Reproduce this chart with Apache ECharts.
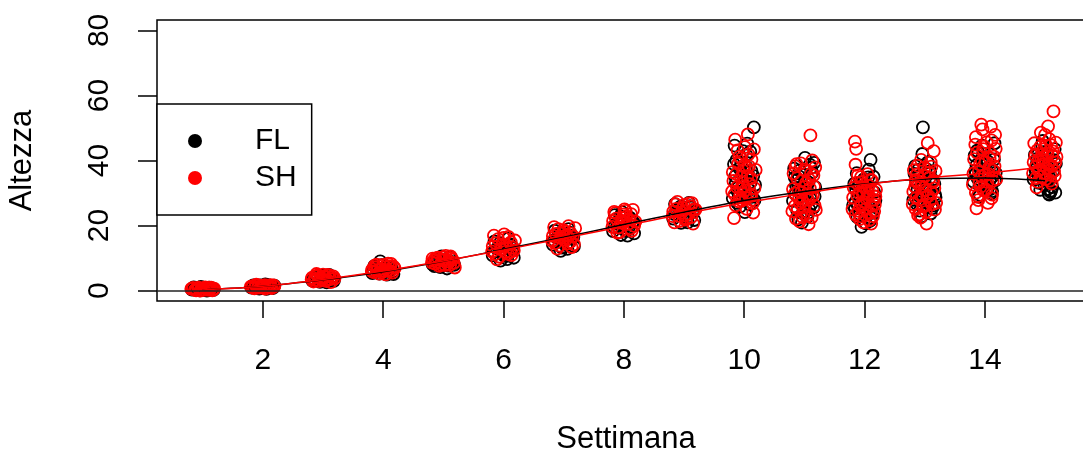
<!DOCTYPE html>
<html>
<head>
<meta charset="utf-8">
<script src="https://cdn.jsdelivr.net/npm/echarts@6/dist/echarts.min.js"></script>
<style>
  html, body { margin: 0; padding: 0; background: #fff; }
  #main { width: 1083px; height: 452px; }
</style>
</head>
<body>
<div id="main"></div>
<script>
// weeks and fitted curves
var weeks = [1, 2, 3, 4, 5, 6, 7, 8, 9, 10, 11, 12, 13, 14, 15];
var flFit = [0.2, 1.3, 3.3, 5.8, 9.0, 12.7, 16.4, 20.3, 24.1, 27.7, 30.5, 32.8, 34.3, 34.6, 33.8];
var shFit = [0.2, 1.3, 3.4, 6.0, 9.1, 12.5, 16.1, 19.8, 23.6, 27.0, 29.9, 32.6, 34.6, 36.1, 38.0];

var xTicks = [2, 4, 6, 8, 10, 12, 14];
var yTicks = [0, 20, 40, 60, 80];

// jittered observations [settimana, altezza], one block per week
var flPoints = [
  [0.82,0.3],[0.88,0.8],[0.95,0.1],[1.03,0.5],[1.11,0.9],[1.18,0.2],[0.91,0.6],[1.07,0.0],[1.15,0.7],[0.85,1.0],[0.99,0.4],[1.13,0.3],[0.97,1.1],[1.05,0.6],
  [0.86,0.4],[0.94,0.9],[1.02,0.2],[1.16,0.5],
  [1.81,0.9],[1.87,1.4],[1.94,0.6],[2.02,1.1],[2.09,1.7],[2.17,0.8],[1.90,1.2],[2.06,0.5],[2.14,1.3],[1.84,1.6],[1.98,0.9],[2.12,1.0],[2.19,1.5],[2.04,1.9],
  [1.85,1.1],[1.96,1.6],[2.07,0.8],[2.16,1.2],
  [2.82,3.1],[2.88,4.2],[2.95,2.7],[3.03,3.6],[3.10,4.8],[3.18,3.0],[2.91,3.9],[3.06,2.5],[3.14,4.1],[2.85,3.4],[2.99,4.6],[3.12,3.3],[2.97,2.9],[3.07,3.8],
  [2.84,3.7],[2.94,3.2],[3.05,4.4],[3.16,3.6],
  [3.82,5.4],[3.89,6.6],[3.95,9.0],[4.02,5.9],[4.10,7.2],[4.17,5.1],[3.92,6.1],[4.06,4.9],[4.14,6.8],[3.85,7.5],[3.99,5.6],[4.12,6.3],[3.97,7.8],[4.08,5.3],
  [3.84,6.0],[3.94,5.2],[4.04,6.9],[4.16,5.8],
  [4.82,8.1],[4.88,9.3],[4.95,7.2],[5.03,8.7],[5.10,10.2],[5.18,7.9],[4.91,9.8],[5.06,6.8],[5.14,8.4],[4.85,7.5],[4.99,9.1],[5.12,8.9],[4.97,10.5],[5.08,7.7],
  [4.84,8.8],[4.94,8.0],[5.04,9.6],[5.16,8.3],
  [5.82,10.8],[5.89,12.9],[5.95,9.2],[6.02,11.6],[6.10,14.3],[6.17,10.1],[5.92,13.5],[6.06,9.7],[6.14,12.2],[5.85,15.1],[5.99,11.0],[6.12,13.8],[5.97,12.6],[6.08,16.0],
  [5.84,12.0],[5.94,14.6],[6.04,10.6],[6.16,13.1],
  [6.82,14.1],[6.89,16.2],[6.95,12.2],[7.02,15.5],[7.10,17.8],[7.17,13.6],[6.92,17.1],[7.06,12.8],[7.14,15.9],[6.85,18.4],[6.99,14.7],[7.12,16.8],[6.97,13.2],[7.08,18.9],
  [6.84,15.4],[6.94,17.6],[7.04,14.0],[7.16,16.5],
  [7.82,18.3],[7.89,20.6],[7.95,17.1],[8.02,19.8],[8.10,22.4],[8.17,17.6],[7.92,21.5],[8.06,16.9],[8.14,20.9],[7.85,23.2],[7.99,18.9],[8.12,21.9],[7.97,24.1],[8.08,19.4],
  [7.84,19.6],[7.94,22.8],[8.04,18.3],[8.16,21.0],
  [8.82,22.1],[8.89,24.6],[8.95,20.8],[9.02,23.5],[9.10,26.0],[9.17,21.7],[8.92,25.3],[9.06,21.0],[9.14,24.1],[8.85,26.6],[8.99,22.9],[9.12,25.5],[8.97,23.8],[9.08,27.0],
  [8.84,23.5],[8.94,25.8],[9.04,22.4],[9.16,24.8],
  [9.81,28.4],[9.86,33.1],[9.92,37.6],[9.97,30.2],[10.03,41.8],[10.09,26.5],[10.15,35.3],[9.84,44.6],[9.90,31.7],[9.95,39.4],[10.01,24.1],[10.07,29.3],[10.12,36.8],
  [10.18,32.5],[9.83,38.9],[9.88,27.0],[9.99,34.4],[10.05,45.2],[10.10,42.7],[10.16,50.2],[9.93,25.8],[10.02,33.9],[9.87,40.1],[10.13,28.8],[9.96,36.0],[10.08,31.0],
  [9.85,35.1],[9.91,29.0],[9.98,42.9],[10.04,38.0],[10.11,33.4],[10.17,27.8],[9.89,30.5],[10.06,36.3],
  [10.81,27.6],[10.86,32.4],[10.92,36.9],[10.97,23.8],[11.03,30.1],[11.09,38.7],[11.15,25.5],[10.84,34.8],[10.90,21.9],[10.95,29.0],[11.01,40.8],[11.07,33.3],[11.12,26.7],
  [11.18,31.8],[10.83,37.5],[10.88,24.6],[10.99,35.6],[11.05,22.7],[11.10,28.3],[11.16,39.3],[10.93,30.9],[11.02,27.1],[10.87,33.9],[11.13,36.2],[10.96,20.9],[11.08,25.0],
  [10.85,29.7],[10.91,35.1],[10.98,26.3],[11.04,31.5],[11.11,37.7],[11.17,28.9],[10.89,32.8],[11.06,23.9],
  [11.81,26.3],[11.86,30.8],[11.92,23.5],[11.97,33.6],[12.03,28.1],[12.09,21.4],[12.15,35.0],[11.84,25.2],[11.90,31.9],[11.95,19.6],[12.01,29.4],[12.07,37.2],[12.12,24.3],
  [12.18,27.7],[11.83,32.9],[11.88,22.6],[11.99,34.3],[12.05,26.9],[12.10,40.2],[12.16,30.3],[11.93,28.6],[12.02,20.7],[11.87,36.1],[12.13,23.9],[11.96,31.2],[12.08,25.7],
  [11.85,27.3],[11.91,33.0],[11.98,24.9],[12.04,31.1],[12.11,22.3],[12.17,29.0],[11.89,26.1],[12.06,34.8],
  [12.81,27.9],[12.86,33.2],[12.92,24.6],[12.97,50.2],[13.03,30.4],[13.09,36.7],[13.15,26.1],[12.84,38.3],[12.90,29.2],[12.95,22.8],[13.01,34.8],[13.07,31.6],[13.12,25.3],
  [13.18,28.7],[12.83,35.9],[12.88,31.0],[12.99,27.2],[13.05,39.4],[13.10,23.7],[13.16,32.8],[12.93,29.9],[13.02,37.5],[12.87,26.6],[13.13,34.1],[12.96,42.0],[13.08,30.7],
  [12.85,28.4],[12.91,35.2],[12.98,31.9],[13.04,25.9],[13.11,33.6],[13.17,29.5],[12.89,37.1],[13.06,27.6],
  [13.81,33.5],[13.86,38.6],[13.92,29.4],[13.97,42.1],[14.03,35.7],[14.09,31.2],[14.15,40.3],[13.84,36.8],[13.90,28.8],[13.95,44.6],[14.01,33.0],[14.07,38.1],[14.12,30.6],
  [14.18,36.2],[13.83,41.5],[13.88,34.4],[13.99,31.8],[14.05,39.7],[14.10,29.9],[14.16,45.3],[13.93,37.3],[14.02,32.6],[13.87,43.0],[14.13,35.1],[13.96,40.8],[14.08,34.0],
  [13.85,35.9],[13.91,32.3],[13.98,39.0],[14.04,30.9],[14.11,37.4],[14.17,33.8],[13.89,42.2],[14.06,36.0],
  [14.81,34.2],[14.86,38.9],[14.92,31.0],[14.97,42.6],[15.03,36.4],[15.09,30.3],[15.15,40.1],[14.84,37.2],[14.90,33.1],[14.95,44.8],[15.01,35.5],[15.07,29.5],[15.12,31.8],
  [15.18,39.0],[14.83,41.7],[14.88,35.8],[14.99,32.4],[15.05,37.9],[15.10,30.7],[15.16,43.5],[14.93,38.4],[15.02,33.7],[14.87,40.5],[15.13,36.6],[14.96,46.0],[15.08,34.6],
  [14.85,36.5],[14.91,40.2],[14.98,34.0],[15.04,31.2],[15.11,38.1],[15.17,30.1],[14.89,42.0],[15.06,29.8]
];

var shPoints = [
  [0.81,0.5],[0.87,0.2],[0.93,0.9],[1.00,0.4],[1.08,0.7],[1.16,0.1],[1.19,0.6],[0.90,0.3],[1.04,1.0],[1.12,0.5],[0.84,0.8],[0.96,0.0],[1.10,0.9],[1.02,0.2],
  [0.83,0.6],[0.89,0.1],[0.94,0.7],[0.98,0.3],[1.06,0.8],[1.09,0.2],[1.14,0.9],[1.17,0.4],
  [1.80,1.2],[1.86,0.7],[1.93,1.6],[2.00,1.0],[2.07,1.5],[2.15,0.8],[2.19,1.3],[1.89,1.8],[2.04,0.6],[2.11,1.1],[1.83,1.4],[1.96,0.9],[2.13,1.7],[2.01,1.2],
  [1.82,1.0],[1.88,1.5],[1.92,0.9],[1.97,1.4],[2.03,1.7],[2.08,1.1],[2.14,0.9],[2.18,1.6],
  [2.81,3.5],[2.87,4.4],[2.93,2.9],[3.00,4.9],[3.07,3.2],[3.15,4.0],[3.19,3.7],[2.89,5.1],[3.04,3.0],[3.11,4.6],[2.84,2.8],[2.96,3.9],[3.13,2.6],[3.01,4.3],
  [2.82,4.0],[2.86,3.3],[2.91,4.7],[2.98,3.4],[3.03,4.1],[3.08,4.8],[3.12,3.5],[3.17,4.4],
  [3.81,6.0],[3.87,7.1],[3.93,5.2],[4.00,7.9],[4.07,6.4],[4.15,5.5],[4.19,6.9],[3.89,8.0],[4.04,5.0],[4.11,7.5],[3.84,5.7],[3.96,6.7],[4.13,8.2],[4.01,6.1],
  [3.82,6.5],[3.86,7.7],[3.91,6.3],[3.98,5.6],[4.03,7.2],[4.08,8.3],[4.12,6.0],[4.17,7.4],
  [4.81,8.6],[4.87,9.9],[4.93,7.6],[5.00,10.3],[5.07,8.2],[5.15,9.5],[5.19,7.1],[4.89,8.9],[5.04,10.7],[5.11,7.9],[4.84,9.2],[4.96,8.0],[5.13,10.0],[5.01,9.6],
  [4.82,9.8],[4.86,8.3],[4.91,10.1],[4.98,9.3],[5.03,7.8],[5.08,9.0],[5.12,10.5],[5.17,8.5],
  [5.81,12.0],[5.87,14.5],[5.93,10.4],[6.00,16.2],[6.07,11.3],[6.15,13.2],[6.19,15.4],[5.89,9.6],[6.04,13.9],[6.11,11.8],[5.84,16.9],[5.96,12.7],[6.13,10.9],[6.01,17.3],
  [5.82,13.7],[5.86,11.2],[5.91,15.8],[5.98,14.1],[6.03,11.9],[6.08,16.5],[6.12,14.8],[6.17,12.3],
  [6.81,15.2],[6.87,17.4],[6.93,13.8],[7.00,18.6],[7.07,14.5],[7.15,16.6],[7.19,19.2],[6.89,12.9],[7.04,17.0],[7.11,15.0],[6.84,19.5],[6.96,16.1],[7.13,13.4],[7.01,18.1],
  [6.82,16.8],[6.86,14.6],[6.91,18.9],[6.98,17.6],[7.03,15.6],[7.08,19.8],[7.12,17.5],[7.17,14.2],
  [7.81,19.6],[7.87,22.1],[7.93,18.0],[8.00,23.4],[8.07,20.5],[8.15,24.8],[8.19,21.2],[7.89,17.8],[8.04,22.8],[8.11,19.1],[7.84,24.2],[7.96,20.8],[8.13,18.4],[8.01,25.0],
  [7.82,21.4],[7.86,23.8],[7.91,19.4],[7.98,22.3],[8.03,24.5],[8.08,21.9],[8.12,23.5],[8.17,19.9],
  [8.81,22.9],[8.87,25.1],[8.93,21.4],[9.00,26.3],[9.07,23.6],[9.15,20.6],[9.19,24.9],[8.89,27.3],[9.04,22.2],[9.11,25.8],[8.84,21.0],[8.96,24.0],[9.13,26.9],[9.01,23.1],
  [8.82,24.3],[8.86,26.5],[8.91,23.0],[8.98,25.4],[9.03,21.8],[9.08,26.8],[9.12,22.6],[9.17,25.0],
  [9.80,30.5],[9.83,22.3],[9.87,35.8],[9.91,27.4],[9.95,40.6],[9.99,32.0],[10.04,25.1],[10.08,38.2],[10.12,29.6],[10.16,43.4],[9.82,33.7],[9.86,26.2],[9.90,39.0],
  [9.94,31.3],[9.98,36.9],[10.03,28.4],[10.07,41.9],[10.11,34.5],[10.15,24.0],[10.19,37.1],[9.85,46.4],[9.93,29.0],[10.01,44.1],[10.06,48.0],[9.97,33.3],[10.13,27.9],
  [9.81,36.4],[9.84,29.6],[9.88,31.8],[9.92,41.2],[9.96,27.7],[10.00,38.6],[10.02,30.9],[10.05,35.2],[10.09,32.7],[10.12,40.3],[10.14,26.8],[10.17,31.5],
  [9.89,43.1],[9.95,34.9],[10.04,37.7],[10.10,29.1],
  [10.80,24.4],[10.84,29.8],[10.88,34.6],[10.92,21.3],[10.96,27.5],[11.00,37.2],[11.05,23.0],[11.09,31.4],[11.13,40.0],[11.17,26.1],[10.82,36.0],[10.86,22.1],[10.90,30.6],
  [10.94,39.1],[10.98,25.6],[11.03,33.2],[11.07,20.4],[11.11,28.7],[11.15,35.4],[11.19,24.8],[10.85,38.2],[10.93,26.8],[11.01,31.9],[11.10,47.7],[10.97,22.6],[11.14,29.3],
  [10.81,31.2],[10.84,26.0],[10.87,38.9],[10.91,28.4],[10.95,33.7],[10.99,23.6],[11.02,36.7],[11.06,27.9],[11.08,34.1],[11.12,22.5],[11.16,32.0],[11.18,37.9],
  [10.89,25.2],[10.95,30.3],[11.04,29.5],[11.11,35.9],
  [11.80,25.0],[11.84,45.8],[11.88,29.1],[11.92,22.0],[11.96,33.4],[12.00,27.2],[12.05,35.8],[12.09,23.8],[12.13,30.7],[12.17,26.4],[11.82,31.6],[11.86,43.6],[11.90,24.5],
  [11.94,34.9],[11.98,21.0],[12.03,28.3],[12.07,32.2],[12.11,20.6],[12.15,27.9],[12.19,31.0],[11.85,38.7],[11.93,26.0],[12.01,23.2],[12.10,34.0],[11.97,29.7],[12.14,22.9],
  [11.81,28.6],[11.85,23.3],[11.87,33.1],[11.91,30.0],[11.95,26.7],[11.99,31.8],[12.02,25.1],[12.06,29.8],[12.08,21.7],[12.12,33.9],[12.16,24.4],[12.18,28.9],
  [11.89,35.4],[11.94,22.8],[12.04,30.6],[12.11,26.0],
  [12.80,26.6],[12.84,31.9],[12.88,38.4],[12.92,23.4],[12.96,29.3],[13.00,35.1],[13.05,45.4],[13.09,27.7],[13.13,33.3],[13.17,24.9],[12.82,37.0],[12.86,28.5],[12.90,32.6],
  [12.94,40.2],[12.98,25.8],[13.03,20.6],[13.07,36.3],[13.11,30.2],[13.15,42.9],[13.19,27.0],[12.85,34.0],[12.93,22.4],[13.01,30.9],[13.10,39.4],[12.97,26.2],[13.14,33.8],
  [12.81,30.4],[12.85,25.1],[12.87,35.7],[12.91,28.0],[12.95,32.1],[12.99,37.8],[13.02,24.2],[13.06,29.1],[13.08,34.6],[13.12,26.5],[13.16,31.4],[13.18,36.8],
  [12.89,23.1],[12.94,33.5],[13.04,28.8],[13.11,38.1],
  [13.80,32.6],[13.84,44.9],[13.88,29.1],[13.92,38.8],[13.96,49.6],[14.00,35.4],[14.05,27.0],[14.09,42.3],[14.13,33.7],[14.17,47.9],[13.82,40.4],[13.86,25.3],[13.90,36.5],
  [13.94,51.0],[13.98,30.8],[14.03,45.6],[14.07,37.9],[14.11,28.4],[14.15,41.2],[14.19,34.3],[13.85,47.2],[13.93,31.9],[14.01,39.6],[14.10,50.4],[13.97,43.5],[14.14,36.9],
  [13.81,36.0],[13.85,30.1],[13.87,42.4],[13.91,33.2],[13.95,39.9],[13.99,44.3],[14.02,31.0],[14.06,35.8],[14.08,40.7],[14.12,29.5],[14.16,38.2],[14.18,43.6],
  [13.89,27.8],[13.94,35.1],[14.04,33.4],[14.11,46.2],
  [14.80,36.1],[14.84,41.6],[14.88,33.4],[14.92,44.2],[14.96,38.7],[15.00,47.9],[15.05,50.5],[15.09,35.6],[15.13,42.8],[15.17,39.4],[14.82,45.3],[14.86,31.7],[14.90,40.0],
  [14.94,35.0],[14.98,43.4],[15.03,37.6],[15.07,46.6],[15.11,32.9],[15.14,55.1],[15.19,41.1],[14.85,38.2],[14.93,48.6],[15.01,34.3],[15.10,44.7],[14.97,39.8],[15.15,36.8],
  [14.81,39.5],[14.85,34.6],[14.87,43.1],[14.91,37.2],[14.95,41.8],[14.99,36.0],[15.02,44.6],[15.06,39.1],[15.08,33.8],[15.12,41.4],[15.16,35.3],[15.18,45.5],
  [14.89,36.9],[14.94,40.6],[15.04,42.2],[15.11,38.3]
];

var FONT = '"Liberation Sans", Arial, sans-serif';

function fitLine(fit) {
  return weeks.map(function (w, i) { return [w, fit[i]]; });
}

var myChart = echarts.init(document.getElementById('main'), null, { renderer: 'canvas' });

var option = {
  backgroundColor: '#fff',
  animation: false,
  textStyle: { fontFamily: FONT, color: '#000' },
  grid: {
    left: 157, right: -12, top: 20, bottom: 151,
    outerBoundsMode: 'none',
    containLabel: false,
    show: true, borderColor: '#000', borderWidth: 1.5
  },
  legend: {
    left: 157, top: 104,
    orient: 'vertical',
    padding: [22, 15, 22, 31],
    itemWidth: 14, itemHeight: 14, itemGap: 7,
    borderColor: '#000', borderWidth: 1.5,
    backgroundColor: '#fff',
    icon: 'circle',
    selectedMode: false,
    data: [
      { name: 'FL', itemStyle: { color: '#000', borderWidth: 0, opacity: 1 } },
      { name: 'SH', itemStyle: { color: '#ff0000', borderWidth: 0, opacity: 1 } }
    ],
    formatter: function (name) { return '{g| }{t|' + name + '}'; },
    textStyle: {
      rich: {
        g: { width: 48, fontSize: 30, lineHeight: 32 },
        t: { fontSize: 30, lineHeight: 32, fontFamily: FONT, color: '#000' }
      }
    }
  },
  xAxis: {
    type: 'value', min: 0.24, max: 15.83,
    name: 'Settimana', nameLocation: 'middle', nameGap: 123,
    nameTextStyle: { fontSize: 31, color: '#000', fontFamily: FONT },
    axisLine: { show: false, onZero: false },
    splitLine: { show: false },
    axisTick: { show: true, length: 17, customValues: xTicks, lineStyle: { color: '#000', width: 1.5 } },
    axisLabel: { customValues: xTicks, margin: 45, fontSize: 30, color: '#000', fontFamily: FONT }
  },
  yAxis: {
    type: 'value', min: -3.2, max: 83.2,
    name: 'Altezza', nameLocation: 'middle', nameGap: 119, nameRotate: 90,
    nameTextStyle: { fontSize: 31, color: '#000', fontFamily: FONT },
    axisLine: { show: false, onZero: false },
    splitLine: { show: false },
    axisTick: { show: true, length: 19, customValues: yTicks, lineStyle: { color: '#000', width: 1.5 } },
    axisLabel: { customValues: yTicks, margin: 42, rotate: 90, fontSize: 30, color: '#000', fontFamily: FONT }
  },
  series: [
    {
      name: 'FL', type: 'scatter', data: flPoints, symbol: 'circle', symbolSize: 12,
      large: false,
      itemStyle: { color: 'rgba(0,0,0,0)', borderColor: '#000', borderWidth: 1.8, opacity: 1 },
      markLine: {
        silent: true, symbol: 'none', label: { show: false },
        lineStyle: { color: '#222', width: 1.5, type: 'solid' },
        data: [{ yAxis: 0 }]
      },
      z: 2
    },
    {
      name: 'SH', type: 'scatter', data: shPoints, symbol: 'circle', symbolSize: 12,
      large: false,
      itemStyle: { color: 'rgba(0,0,0,0)', borderColor: '#ff0000', borderWidth: 1.8, opacity: 1 },
      z: 3
    },
    {
      name: 'FL fit', type: 'line', data: fitLine(flFit), showSymbol: false, smooth: 0.3,
      lineStyle: { color: '#000', width: 1.5 }, z: 4
    },
    {
      name: 'SH fit', type: 'line', data: fitLine(shFit), showSymbol: false, smooth: 0.3,
      lineStyle: { color: '#ff0000', width: 1.5 }, z: 4
    }
  ]
};

myChart.setOption(option);
</script>
</body>
</html>
